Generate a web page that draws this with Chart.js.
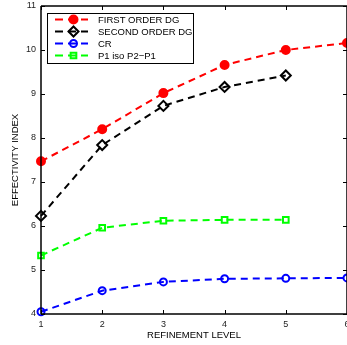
<!DOCTYPE html>
<html>
<head>
<meta charset="utf-8">
<script src="https://cdn.jsdelivr.net/npm/chart.js@4/dist/chart.umd.min.js"></script>
<style>
  html, body { margin: 0; padding: 0; background: #fff; overflow: hidden; }
  canvas { display: block; }
</style>
</head>
<body>
<canvas id="c" width="347" height="345"></canvas>
<script>
// ---- data ----
const levels = [1, 2, 3, 4, 5, 6];
const firstOrderDG = [7.47, 8.20, 9.02, 9.66, 10.00, 10.16];
const secondOrderDG = [6.23, 7.84, 8.73, 9.16, 9.42];
const cr = [4.05, 4.53, 4.73, 4.80, 4.81, 4.82];
const p1IsoP2P1 = [5.33, 5.96, 6.12, 6.14, 6.14];
const seriesLabels = ['FIRST ORDER DG', 'SECOND ORDER DG', 'CR', 'P1 iso P2\u2212P1'];
const xTicks = [1, 2, 3, 4, 5, 6];
const yTicks = [4, 5, 6, 7, 8, 9, 10, 11];
const xTitle = 'REFINEMENT LEVEL';
const yTitle = 'EFFECTIVITY INDEX';

const FONT = '"Liberation Sans", Arial, Helvetica, sans-serif';
const pts = (vals) => vals.map((v, i) => ({ x: levels[i], y: v }));

function ds(label, vals, color, style, radius, fill) {
  return {
    label,
    data: pts(vals),
    borderColor: color,
    backgroundColor: color,
    borderWidth: 2,
    borderDash: [7, 5],
    pointStyle: style,
    pointRadius: radius,
    pointHoverRadius: radius,
    pointBorderWidth: 2,
    pointBorderColor: color,
    pointBackgroundColor: fill,
    tension: 0,
    fill: false,
    clip: false
  };
}

const datasets = [
  ds(seriesLabels[0], firstOrderDG, '#ff0000', 'circle', 4, '#ff0000'),
  ds(seriesLabels[1], secondOrderDG, '#000000', 'rectRot', 5, 'rgba(0,0,0,0)'),
  ds(seriesLabels[2], cr, '#0000ff', 'circle', 3.5, 'rgba(0,0,0,0)'),
  ds(seriesLabels[3], p1IsoP2P1, '#00ff00', 'rect', 4, 'rgba(0,0,0,0)')
];

// frame with inward tick marks (MATLAB style)
const framePlugin = {
  id: 'frame',
  afterDatasetsDraw(chart) {
    const { ctx, chartArea: a, scales } = chart;
    ctx.save();
    ctx.strokeStyle = '#000';
    ctx.lineWidth = 1.5;
    ctx.setLineDash([]);
    ctx.beginPath();
    ctx.moveTo(a.left, a.top); ctx.lineTo(a.right, a.top);
    ctx.moveTo(a.left, a.bottom); ctx.lineTo(a.right, a.bottom);
    ctx.moveTo(a.left, a.top); ctx.lineTo(a.left, a.bottom);
    ctx.moveTo(a.right, a.top); ctx.lineTo(a.right, a.bottom);
    ctx.stroke();
    ctx.lineWidth = 1;
    const tl = 4;
    ctx.beginPath();
    xTicks.forEach(t => {
      const x = Math.round(scales.x.getPixelForValue(t)) + 0.5;
      ctx.moveTo(x, a.bottom); ctx.lineTo(x, a.bottom - tl);
      ctx.moveTo(x, a.top); ctx.lineTo(x, a.top + tl);
    });
    yTicks.forEach(t => {
      const y = Math.round(scales.y.getPixelForValue(t)) + 0.5;
      ctx.moveTo(a.left, y); ctx.lineTo(a.left + tl, y);
      ctx.moveTo(a.right, y); ctx.lineTo(a.right - tl, y);
    });
    ctx.stroke();
    ctx.restore();
  }
};

// MATLAB-style boxed legend with line + marker samples
const legendPlugin = {
  id: 'matlabLegend',
  afterDraw(chart) {
    const { ctx, chartArea: a } = chart;
    const bx = a.left + 6, by = a.top + 7, bw = 146, bh = 50;
    ctx.save();
    ctx.fillStyle = '#fff';
    ctx.fillRect(bx, by, bw, bh);
    ctx.strokeStyle = '#000';
    ctx.lineWidth = 1;
    ctx.setLineDash([]);
    ctx.strokeRect(bx + 0.5, by + 0.5, bw, bh);
    const rowH = 12;
    chart.data.datasets.forEach((d, i) => {
      const y = by + 6.5 + i * rowH;
      ctx.strokeStyle = d.borderColor;
      ctx.lineWidth = 2;
      ctx.setLineDash([8, 5]);
      ctx.beginPath();
      ctx.moveTo(bx + 8, y); ctx.lineTo(bx + 41, y);
      ctx.stroke();
      ctx.setLineDash([]);
      ctx.fillStyle = d.pointBackgroundColor;
      ctx.strokeStyle = d.pointBorderColor;
      ctx.lineWidth = d.pointBorderWidth;
      Chart.helpers.drawPoint(ctx, {
        pointStyle: d.pointStyle, radius: d.pointRadius, rotation: 0, borderWidth: d.pointBorderWidth
      }, bx + 26.5, y);
      ctx.fillStyle = '#000';
      ctx.font = '9.5px ' + FONT;
      ctx.textAlign = 'left';
      ctx.textBaseline = 'middle';
      ctx.fillText(d.label, bx + 51, y + 0.5);
    });
    ctx.restore();
  }
};

new Chart(document.getElementById('c'), {
  type: 'line',
  data: { datasets },
  options: {
    responsive: false,
    animation: false,
    devicePixelRatio: 1,
    events: [],
    layout: { autoPadding: false, padding: { left: 0, right: -1, top: 6, bottom: 0 } },
    plugins: { legend: { display: false }, tooltip: { enabled: false } },
    scales: {
      x: {
        type: 'linear',
        min: 1, max: 6,
        afterBuildTicks: (s) => { s.ticks = xTicks.map(v => ({ value: v })); },
        afterFit: (s) => { s.height = 31; s.paddingRight = -1; s.paddingLeft = 0; },
        grid: { display: false, drawTicks: false },
        border: { display: false },
        ticks: { padding: 5, color: '#222', font: { family: FONT, size: 9 }, maxRotation: 0 },
        title: { display: true, text: xTitle, color: '#000', font: { family: FONT, size: 9.5 }, padding: { top: 0, bottom: 4 } }
      },
      y: {
        type: 'linear',
        min: 4, max: 11,
        afterBuildTicks: (s) => { s.ticks = yTicks.map(v => ({ value: v })); },
        afterFit: (s) => { s.width = 41; s.paddingTop = 0; s.paddingBottom = 0; },
        grid: { display: false, drawTicks: false },
        border: { display: false },
        ticks: { padding: 5, color: '#222', font: { family: FONT, size: 9 } },
        title: { display: true, text: yTitle, color: '#000', font: { family: FONT, size: 9.5 }, padding: { top: 10, bottom: 0 } }
      }
    }
  },
  plugins: [framePlugin, legendPlugin]
});
</script>
</body>
</html>
